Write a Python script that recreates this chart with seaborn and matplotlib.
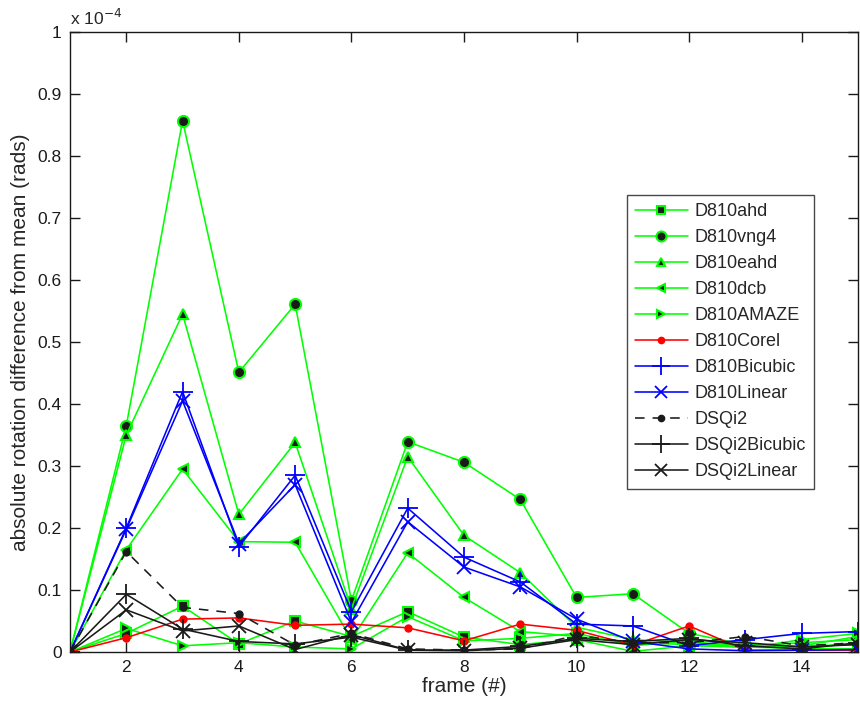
import numpy as np
import pandas as pd
import matplotlib
matplotlib.use("Agg")
import matplotlib.pyplot as plt
from matplotlib.ticker import FuncFormatter, FixedLocator
from matplotlib.lines import Line2D
import seaborn as sns

frames = list(range(1, 16))

# values in units of 1e-4 rad
d810ahd     = [0, 0.030, 0.074, 0.013, 0.050, 0.025, 0.065, 0.024, 0.012, 0.020, 0.001, 0.010, 0.008, 0.006, 0.005]
d810vng4    = [0, 0.365, 0.857, 0.451, 0.561, 0.083, 0.339, 0.306, 0.246, 0.088, 0.094, 0.030, 0.012, 0.010, 0.025]
d810eahd    = [0, 0.350, 0.545, 0.222, 0.338, 0.070, 0.315, 0.188, 0.128, 0.040, 0.020, 0.015, 0.010, 0.015, 0.020]
d810dcb     = [0, 0.165, 0.295, 0.178, 0.177, 0.020, 0.160, 0.088, 0.033, 0.025, 0.015, 0.012, 0.008, 0.010, 0.012]
d810amaze   = [0, 0.038, 0.010, 0.015, 0.008, 0.005, 0.057, 0.018, 0.022, 0.030, 0.010, 0.018, 0.006, 0.020, 0.030]
d810corel   = [0, 0.023, 0.053, 0.055, 0.043, 0.045, 0.039, 0.018, 0.045, 0.035, 0.011, 0.042, 0.003, 0.003, 0.003]
d810bicubic = [0, 0.200, 0.420, 0.170, 0.285, 0.065, 0.232, 0.153, 0.113, 0.045, 0.042, 0.010, 0.020, 0.030, 0.033]
d810linear  = [0, 0.198, 0.405, 0.175, 0.270, 0.048, 0.210, 0.137, 0.105, 0.053, 0.017, 0.005, 0.002, 0.003, 0.004]
dsqi2       = [0, 0.162, 0.072, 0.062, 0.011, 0.030, 0.005, 0.003, 0.005, 0.027, 0.015, 0.015, 0.025, 0.010, 0.015]
dsqi2bicub  = [0, 0.093, 0.037, 0.017, 0.013, 0.024, 0.003, 0.003, 0.009, 0.022, 0.017, 0.022, 0.010, 0.005, 0.015]
dsqi2linear = [0, 0.068, 0.034, 0.042, 0.004, 0.028, 0.003, 0.002, 0.006, 0.020, 0.012, 0.020, 0.015, 0.008, 0.012]

names = ["D810ahd", "D810vng4", "D810eahd", "D810dcb", "D810AMAZE", "D810Corel",
         "D810Bicubic", "D810Linear", "DSQi2", "DSQi2Bicubic", "DSQi2Linear"]
series = [d810ahd, d810vng4, d810eahd, d810dcb, d810amaze, d810corel,
          d810bicubic, d810linear, dsqi2, dsqi2bicub, dsqi2linear]

G = "#00ff00"
styles = {
    "D810ahd":      dict(color=G, marker="s", ms=7, mfc="k", mec=G, mew=1.5, ls="-"),
    "D810vng4":     dict(color=G, marker="o", ms=8, mfc="k", mec=G, mew=1.5, ls="-"),
    "D810eahd":     dict(color=G, marker="^", ms=7, mfc="k", mec=G, mew=1.5, ls="-"),
    "D810dcb":      dict(color=G, marker="<", ms=7, mfc="k", mec=G, mew=1.5, ls="-"),
    "D810AMAZE":    dict(color=G, marker=">", ms=7, mfc="k", mec=G, mew=1.5, ls="-"),
    "D810Corel":    dict(color="#ff0000", marker=".", ms=10, mfc="#ff0000", mec="#ff0000", mew=1, ls="-"),
    "D810Bicubic":  dict(color="#0000ff", marker="+", ms=14, mfc="none", mec="#0000ff", mew=1.3, ls="-"),
    "D810Linear":   dict(color="#0000ff", marker="x", ms=10, mfc="none", mec="#0000ff", mew=1.3, ls="-"),
    "DSQi2":        dict(color="k", marker=".", ms=10, mfc="k", mec="k", mew=1, ls=(0, (6, 5))),
    "DSQi2Bicubic": dict(color="k", marker="+", ms=14, mfc="none", mec="k", mew=1.3, ls="-"),
    "DSQi2Linear":  dict(color="k", marker="x", ms=10, mfc="none", mec="k", mew=1.3, ls="-"),
}

sns.set_theme(style="white")
plt.rcParams["font.family"] = ["Liberation Sans", "DejaVu Sans"]

fig = plt.figure(figsize=(8.6, 7.06), dpi=100)
ax = fig.add_axes([70/860, 54/706, 788/860, 620/706])

LW = 1.15
handles = []
for name, vals in zip(names, series):
    st = styles[name]
    df = pd.DataFrame({"frame": frames, "val": vals})
    sns.lineplot(data=df, x="frame", y="val", ax=ax, color=st["color"],
                 marker=st["marker"], markersize=st["ms"], markerfacecolor=st["mfc"],
                 markeredgecolor=st["mec"], markeredgewidth=st["mew"],
                 linestyle=st["ls"], linewidth=LW, legend=False)
    handles.append(Line2D([], [], color=st["color"], marker=st["marker"],
                          markersize=st["ms"] * 0.9, markerfacecolor=st["mfc"],
                          markeredgecolor=st["mec"], markeredgewidth=st["mew"],
                          linestyle=st["ls"], linewidth=LW, label=name))

ax.set_xlim(1, 15)
ax.set_ylim(0, 1)
ax.xaxis.set_major_locator(FixedLocator([2, 4, 6, 8, 10, 12, 14]))
ax.yaxis.set_major_locator(FixedLocator(np.round(np.arange(0, 1.01, 0.1), 1)))
ax.yaxis.set_major_formatter(FuncFormatter(lambda v, p: "%g" % v))
ax.tick_params(direction="in", length=7, width=1, labelsize=12.5, colors="k",
               top=True, right=True, bottom=True, left=True, pad=6)
for sp in ax.spines.values():
    sp.set_visible(True)
    sp.set_color("k")
    sp.set_linewidth(1)
ax.set_xlabel("frame (#)", fontsize=15, labelpad=1)
ax.set_ylabel("absolute rotation difference from mean (rads)", fontsize=15, labelpad=5)
ax.text(0.0, 1.006, r"x 10$^{-4}$", transform=ax.transAxes, fontsize=12.5,
        ha="left", va="bottom")

leg = ax.legend(handles=handles, loc="upper left", bbox_to_anchor=(0.707, 0.737),
                borderaxespad=0, fontsize=13, frameon=True, fancybox=False, edgecolor="k",
                handlelength=2.9, labelspacing=0.5, borderpad=0.45, handletextpad=0.4)
leg.get_frame().set_linewidth(1)

fig.savefig("out.png", dpi=100, facecolor="white")
